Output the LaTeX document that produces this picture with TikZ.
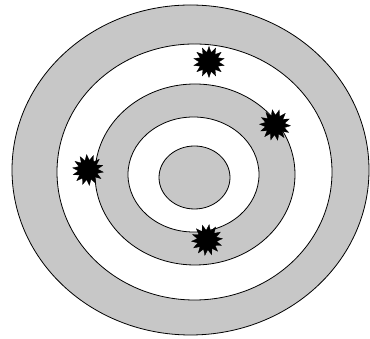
\documentclass[tikz,border=0pt]{standalone}
\usetikzlibrary{shapes.geometric}
\begin{document}
\begin{tikzpicture}[x=1pt,y=1pt,
  ring/.style={draw=black,line width=0.8pt},
  grayring/.style={ring,fill=black!22},
  whitering/.style={ring,fill=white},
  hit/.style={star,star points=14,star point ratio=1.6,fill=black,draw=black,line width=0.3pt,minimum size=31pt,inner sep=0pt}]
\useasboundingbox (0,0) rectangle (370,339);
\fill[white] (0,0) rectangle (370,339);
\draw[grayring] (190.5,169) ellipse [x radius=178.5, y radius=165];
\draw[whitering] (194.5,167) ellipse [x radius=137.5, y radius=128];
\draw[grayring] (195,164.5) ellipse [x radius=100, y radius=90.5];
\draw[whitering] (193.5,164.5) ellipse [x radius=65.5, y radius=57.5];
\draw[grayring] (194.5,161.5) ellipse [x radius=35.5, y radius=31.5];
\node[hit] (h1) at (209,277) {};
\node[hit,rotate=10] (h2) at (275,214) {};
\node[hit,rotate=5] (h3) at (88,169) {};
\node[hit,rotate=-8] (h4) at (207,99) {};
\end{tikzpicture}
\end{document}
